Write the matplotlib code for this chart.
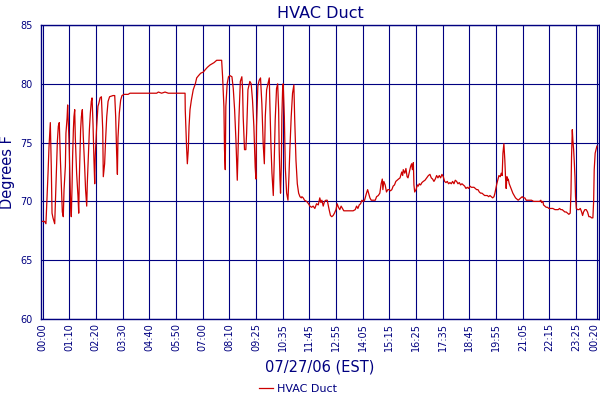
import matplotlib
matplotlib.use('Agg')
import matplotlib.pyplot as plt
import matplotlib.transforms as mtransforms

# ── data: sample position (5-min readings) and duct temperature ──
sample = [
    0, 1.1, 1.8, 2.4, 2.9, 3.4, 3.9, 4.1, 4.6, 5.0, 5.5, 6.4, 6.9, 7.4, 7.8, 8.3, 8.8, 9.4, 9.9, 10.4,
    10.9, 11.3, 12.0, 12.3, 12.9, 13.2, 13.9, 14.4, 14.8, 15.1, 15.5, 15.8, 16.2, 16.5, 16.9, 17.2, 17.9, 18.6, 19.0, 19.3,
    19.7, 20.0, 20.4, 20.9, 21.4, 22.1, 22.6, 23.2, 23.5, 24.0, 24.6, 25.1, 25.6, 26.0, 26.5, 27.0, 27.4, 27.7, 28.4, 29.1,
    29.5, 30.2, 30.9, 31.6, 31.9, 32.6, 33.1, 33.7, 34.4, 35.2, 37.0, 37.9, 38.4, 38.9, 39.3, 39.6, 40.3, 41.0, 41.7, 42.8,
    44.9,
    45.9, 59.9, 60.8, 62.5, 64.3, 66.0, 68.6, 74.8, 74.9, 75.6, 76.0, 76.5, 76.9, 77.4, 78.1, 79.1, 80.2, 80.9, 81.9, 83.0,
    84.4, 85.4, 86.5, 87.9, 88.9, 90.0, 91.4, 92.8,
    93.1, 94.0, 94.5, 95.2, 95.5, 95.9, 96.2, 96.9, 97.6, 98.3, 99.4, 100.1, 100.8, 101.5, 102.2, 102.5, 103.1, 103.8, 104.6, 105.0,
    105.3, 106.0, 106.7, 107.1, 107.8, 108.8, 109.5, 110.2, 110.9, 111.6, 112.0, 112.3, 113.0, 113.7, 114.4, 115.1, 115.8, 116.4, 116.9, 117.6,
    118.3, 119.0, 119.3, 119.9, 120.4, 121.1, 121.6, 122.1, 122.8, 123.4, 123.9, 124.2, 124.6, 124.9, 125.3, 125.6, 126.0, 126.3, 126.9, 127.4,
    128.1, 128.8, 129.3, 129.8, 130.5, 131.2, 131.9, 132.3, 133.0, 133.7, 134.4, 135.1, 135.8, 136.1, 136.8, 137.5, 138.6, 139.6,
    140.3, 141.2, 142.0, 142.9, 143.8, 144.7, 145.5, 146.1, 146.6, 147.3, 148.0, 148.7, 149.4, 149.9, 150.4, 151.1, 151.8, 152.5, 153.2, 154.0,
    154.6, 155.3, 156.0, 156.7, 157.4, 158.1, 159.2, 160.4, 161.6, 163.0, 164.1, 164.8, 165.5, 166.2, 166.9, 167.6, 168.3, 169.0, 169.5, 170.0,
    170.6, 171.1, 171.8, 172.5, 173.5, 174.6, 175.3, 176.2, 177.0, 177.7, 178.3, 178.6, 179.1, 179.8, 180.5, 181.2, 181.9, 182.6, 183.3, 184.0,
    184.7, 185.4, 186.1, 186.8,
    187.6, 188.5, 189.0, 189.3, 190.1, 190.7, 191.3, 191.8, 192.5, 193.2, 193.7, 194.1, 194.6, 194.9, 195.3, 196.0, 196.7, 197.2, 197.7, 198.4,
    199.1, 199.8, 200.7, 201.6, 202.5, 203.3, 204.0, 204.7, 205.4, 206.1, 206.8, 207.5, 208.2, 208.9, 209.6, 210.3, 211.0, 211.7, 212.4, 213.1,
    213.8, 214.5, 215.2, 215.9, 216.6, 217.3, 218.0, 218.7, 219.4, 220.1, 220.8, 221.5, 222.2, 222.9, 223.6, 224.3, 225.0, 225.7, 226.4, 227.1,
    227.8, 228.5, 229.2, 229.9, 230.6, 231.3, 232.0, 232.7, 233.4, 234.1, 234.8, 235.5, 236.2, 236.9,
    237.4, 237.9, 238.4, 239.0, 239.5, 240.2, 240.7, 241.2, 241.6, 242.1, 242.6, 243.0, 243.3, 243.7, 244.0, 244.4, 244.9, 245.4, 246.1, 246.8,
    247.5, 248.2, 248.9, 249.6, 250.3, 251.0, 251.7, 252.4, 253.1, 253.8, 254.5, 255.6, 256.6, 257.7, 258.7, 259.8, 260.8, 261.5, 261.9, 262.6,
    262.9, 263.6, 264.3, 265.0, 265.7, 266.8, 267.8, 268.9, 269.9, 270.6, 271.3, 272.0, 272.7, 273.4, 274.1, 274.8, 275.5, 276.2, 276.9, 277.3,
    277.6, 278.0, 278.3, 278.7, 279.0, 279.4, 279.7, 280.1, 280.8, 281.5, 282.2, 282.9, 283.4, 283.9, 284.6, 285.3, 286.0, 286.7, 287.4, 288.1,
    288.8, 289.2, 289.5, 290.0, 290.6, 290.9,
]
temp_f = [
    68.3, 68.3, 68.1, 70.4, 72.4, 74.6, 76.1, 76.7, 73.0, 69.0, 68.6, 68.1, 70.7, 73.0, 75.1, 76.4, 76.7, 73.5, 71.3, 69.1,
    68.7, 71.0, 73.0, 75.8, 77.1, 78.2, 75.2, 72.1, 69.5, 68.7, 71.2, 73.8, 76.1, 77.2, 77.8, 75.5, 72.4, 70.5, 69.0, 71.8,
    74.1, 76.1, 77.2, 77.8, 75.5, 73.0, 71.0, 69.6, 71.5, 73.5, 76.1, 77.5, 78.5, 78.8, 76.6, 73.5, 71.5, 73.9, 76.3, 78.1,
    78.3, 78.8, 78.9, 76.1, 72.1, 73.2, 75.2, 77.2, 78.5, 78.9, 79.0, 79.0, 77.2, 74.1, 72.3, 75.4, 77.5, 78.6, 79.0, 79.1,
    79.1,
    79.2, 79.2, 79.3, 79.2, 79.3, 79.2, 79.2, 79.2, 77.8, 74.6, 73.2, 74.4, 76.4, 77.8, 78.6, 79.5, 80.0, 80.5, 80.7, 80.9,
    81.0, 81.2, 81.4, 81.6, 81.7, 81.8, 82.0, 82.0,
    82.0, 82.0, 80.6, 78.0, 74.4, 72.7, 78.1, 80.0, 80.6, 80.7, 80.6, 79.6, 77.8, 75.2, 71.8, 73.5, 77.2, 80.2, 80.6, 79.5,
    77.2, 74.4, 74.4, 75.8, 79.5, 80.2, 80.0, 78.6, 76.4, 72.9, 71.9, 76.4, 79.8, 80.3, 80.5, 78.3, 74.9, 73.2, 77.2, 79.5,
    80.0, 80.5, 78.3, 74.6, 72.4, 70.5, 73.5, 76.9, 79.6, 80.0, 77.8, 74.4, 71.9, 70.7, 72.9, 77.2, 79.6, 80.0, 77.2, 72.9,
    70.7, 70.1, 72.1, 74.4, 77.2, 79.2, 79.9, 77.2, 73.5, 71.5, 70.7, 70.4, 70.3, 70.4, 70.3, 70.1, 70.0, 69.8,
    69.6, 69.5, 69.6, 69.4, 69.8, 69.7, 70.3, 69.9, 70.1, 69.6, 70.0, 70.1, 70.1, 69.7, 69.3, 68.8, 68.7, 68.8, 69.0, 69.3,
    69.8, 69.5, 69.3, 69.6, 69.4, 69.2, 69.2, 69.2, 69.2, 69.2, 69.3, 69.6, 69.4, 69.7, 69.8, 70.1, 70.0, 70.1, 70.4, 70.7,
    71.0, 70.7, 70.3, 70.1, 70.1, 70.1, 70.4, 70.5, 70.7, 71.5, 71.9, 71.0, 71.7, 71.4, 70.8, 71.0, 71.0, 70.9, 71.0, 71.3,
    71.4, 71.7, 71.8, 71.9,
    72.0, 72.5, 72.2, 72.7, 72.4, 72.8, 72.1, 72.0, 72.5, 73.0, 73.2, 72.7, 73.3, 71.4, 70.8, 71.0, 71.4, 71.3, 71.5, 71.4,
    71.6, 71.7, 71.8, 72.0, 72.2, 72.3, 72.0, 71.9, 71.7, 71.9, 72.2, 72.0, 72.2, 72.0, 72.3, 72.1, 71.7, 71.6, 71.7, 71.5,
    71.6, 71.5, 71.7, 71.5, 71.8, 71.7, 71.5, 71.6, 71.4, 71.5, 71.4, 71.3, 71.1, 71.2, 71.1, 71.3, 71.2, 71.2, 71.2, 71.1,
    71.0, 71.0, 70.8, 70.7, 70.7, 70.6, 70.5, 70.5, 70.5, 70.4, 70.5, 70.4, 70.3, 70.4,
    70.7, 71.1, 71.5, 71.9, 72.2, 72.1, 72.4, 72.2, 74.1, 74.9, 73.5, 71.9, 71.1, 72.1, 71.8, 71.9, 71.5, 71.3, 71.0, 70.7,
    70.5, 70.3, 70.2, 70.1, 70.2, 70.3, 70.4, 70.3, 70.3, 70.1, 70.1, 70.1, 70.1, 70.0, 70.0, 70.0, 70.0, 70.1, 69.9, 70.0,
    69.7, 69.6, 69.5, 69.5, 69.4, 69.4, 69.4, 69.3, 69.3, 69.3, 69.4, 69.3, 69.3, 69.2, 69.1, 69.1, 69.0, 68.9, 69.0, 70.7,
    73.8, 76.1, 75.2, 74.4, 73.5, 72.1, 70.4, 69.4, 69.3, 69.3, 69.4, 69.1, 68.8, 69.1, 69.3, 69.3, 69.1, 68.7, 68.7, 68.6,
    68.6, 70.0, 72.7, 74.1, 74.5, 74.7,
]

tick_pos = [0, 14, 28, 42, 56, 70, 84, 98, 112, 126, 140, 154, 168, 182, 196,
            210, 224, 238, 252, 266, 280, 291]
tick_labels = ["00:00", "01:10", "02:20", "03:30", "04:40", "05:50", "07:00", "08:10",
               "09:25", "10:35", "11:45", "12:55", "14:05", "15:15", "16:25", "17:35",
               "18:45", "19:55", "21:05", "22:15", "23:25", "00:20"]
y_ticks = [60, 65, 70, 75, 80, 85]

navy = '#000080'

fig = plt.figure(figsize=(6, 4), dpi=100)
ax = fig.add_axes([0.0683, 0.2025, 0.93, 0.735])

ax.plot(sample, temp_f, color='#CC0000', linewidth=0.9, label='HVAC Duct', zorder=3)

ax.set_xlim(-0.8, 292)
ax.set_ylim(60, 85)
ax.set_xticks(tick_pos)
ax.set_xticklabels(tick_labels, rotation=90, fontsize=7, color=navy)
ax.set_yticks(y_ticks)
ax.set_yticklabels([str(v) for v in y_ticks], fontsize=7, color=navy)
ax.tick_params(axis='both', length=0)
ax.tick_params(axis='x', pad=3)
ax.tick_params(axis='y', pad=6)
ax.grid(True, color=navy, linewidth=0.8, zorder=1)
ax.set_axisbelow(True)
for sp in ax.spines.values():
    sp.set_color(navy)
    sp.set_linewidth(1.0)

# nudge the last tick label so it stays inside the picture
last = ax.get_xticklabels()[-1]
last.set_transform(last.get_transform() +
                   mtransforms.ScaledTranslation(-2 / 72, 0, fig.dpi_scale_trans))

ax.set_title("HVAC Duct", fontsize=11.5, color=navy, pad=5)
ax.set_ylabel("Degrees F", fontsize=10.5, color=navy, labelpad=4)
ax.set_xlabel("07/27/06 (EST)", fontsize=10.5, color=navy, labelpad=6)

leg = fig.legend(loc='lower center', bbox_to_anchor=(0.497, -0.01), frameon=False,
                 fontsize=8, handlelength=1.2, handletextpad=0.4)
for t in leg.get_texts():
    t.set_color(navy)

fig.savefig("out.png", dpi=100, facecolor='white')
